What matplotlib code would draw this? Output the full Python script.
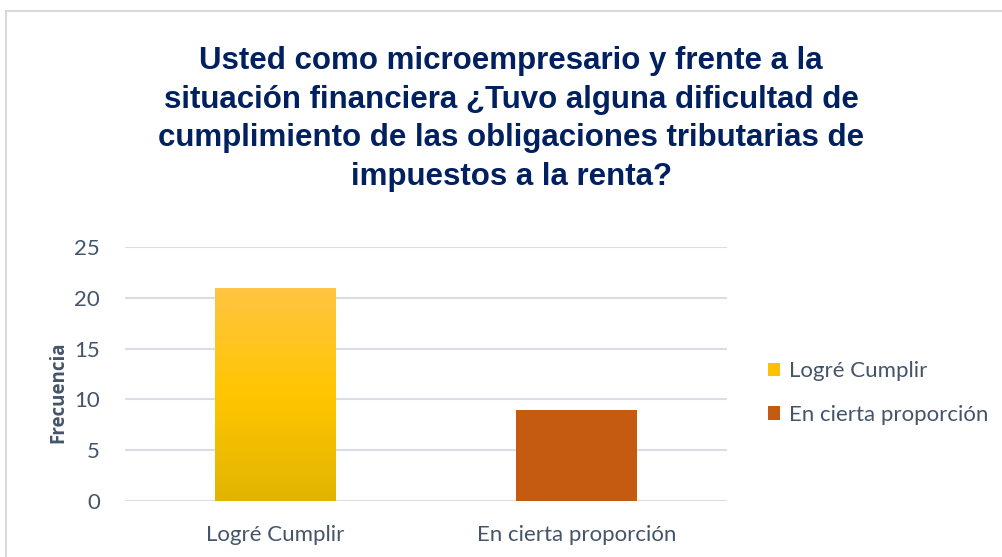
import matplotlib
matplotlib.use("Agg")
import matplotlib.pyplot as plt
import numpy as np
from matplotlib.patches import Rectangle, Patch
from matplotlib.colors import LinearSegmentedColormap

categories = ["Logré Cumplir", "En cierta proporción"]
values = [21, 9]
yticks = [0, 5, 10, 15, 20, 25]
title = ("Usted como microempresario y frente a la\n"
         "situación financiera ¿Tuvo alguna dificultad de\n"
         "cumplimiento de las obligaciones tributarias de\n"
         "impuestos a la renta?")

text_color = "#44546A"
title_color = "#002060"
grid_color = "#D9DEE6"
orange = "#C55A11"
font = "Lato"

fig = plt.figure(figsize=(10.02, 5.57), dpi=100)
fig.patch.set_facecolor("white")

# chart border
fig.add_artist(Rectangle((6/1002, -0.1), 1.2, 1 - 11/557 + 0.1, transform=fig.transFigure,
                         fill=False, edgecolor="#D9D9D9", linewidth=1.5))

ax = fig.add_axes([125/1002, 1 - 501/557, 602/1002, 254/557])
x = np.arange(len(categories))
bars = ax.bar(x, values, width=0.40, color=["#FFC000", orange], zorder=3)

# gradient on first bar
cmap = LinearSegmentedColormap.from_list("g", ["#E2B400", "#FFC600", "#FFC443"])
b0 = bars[0]
grad = np.linspace(0, 1, 256).reshape(-1, 1)
im = ax.imshow(grad, cmap=cmap, origin="lower", aspect="auto",
               extent=(b0.get_x(), b0.get_x() + b0.get_width(), 0, b0.get_height()), zorder=4)
im.set_clip_path(b0)

ax.set_xlim(-0.5, 1.5)
ax.set_ylim(0, 25)
ax.set_yticks(yticks)
ax.set_xticks(x)
ax.set_xticklabels(categories)
ax.yaxis.grid(True, color=grid_color, linewidth=1.5, zorder=0)
ax.set_axisbelow(True)
for s in ax.spines.values():
    s.set_visible(False)
ax.tick_params(length=0, colors=text_color, labelsize=16)
ax.tick_params(axis="y", pad=18)
ax.tick_params(axis="x", pad=17)
for lab in ax.get_xticklabels() + ax.get_yticklabels():
    lab.set_fontfamily(font)
    lab.set_color(text_color)

ax.set_ylabel("Frecuencia", fontsize=13.5, fontweight="bold", color=text_color,
              fontfamily="Open Sans", labelpad=4)
ax.yaxis.set_label_coords(-0.094, 0.43)

fig.text(511/1002, 1 - 119/557, title, ha="center", va="center", fontsize=22.5,
         fontweight="bold", color=title_color, fontfamily="Liberation Sans",
         linespacing=1.39)

handles = [Patch(facecolor="#FFC000", edgecolor="none"), Patch(facecolor=orange, edgecolor="none")]
leg = fig.legend(handles, categories, loc="center left", bbox_to_anchor=(748/1002, 1 - 393/557),
                 frameon=False, prop={"family": font, "size": 16},
                 handlelength=0.55, handleheight=0.55, handletextpad=0.4, labelspacing=1.05)
for t in leg.get_texts():
    t.set_color(text_color)

fig.savefig("out.png", dpi=100, facecolor="white")
